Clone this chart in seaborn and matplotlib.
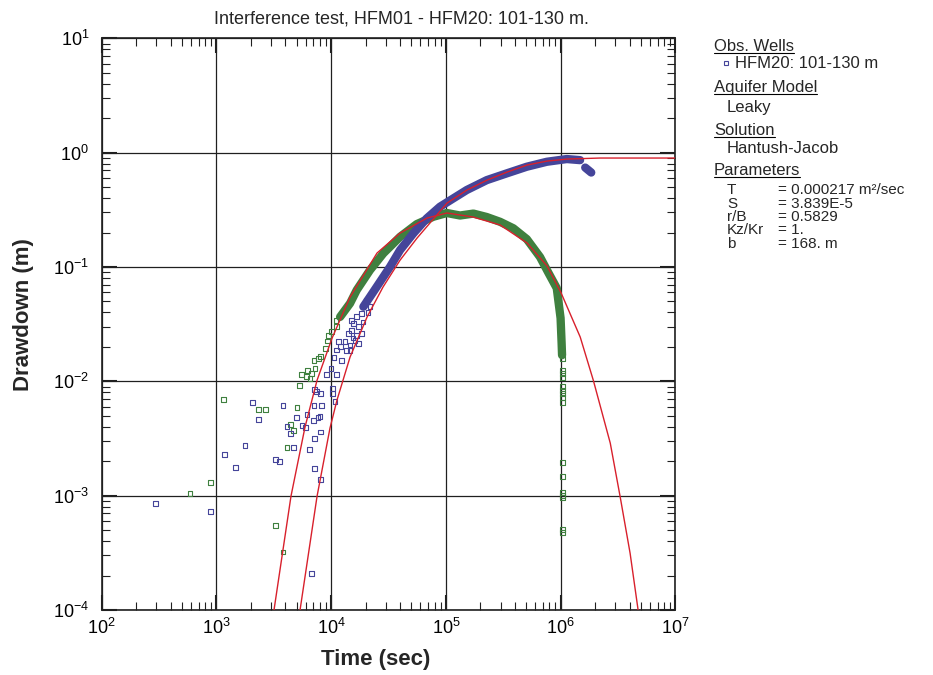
import matplotlib
matplotlib.use("Agg")
import matplotlib.pyplot as plt
import matplotlib.ticker as mticker
from matplotlib.lines import Line2D
import seaborn as sns
import pandas as pd
import numpy as np


BLUE = "#45459a"
GREEN = "#3f803f"
RED = "#d8202c"

TITLE = "Interference test, HFM01 - HFM20: 101-130 m."

# HFM20 observation well, scattered early-time readings
blue_sparse_t = [296, 891, 2056, 2339, 1172, 1472, 1775, 3266, 3565, 3811,
                 4130, 4409, 4680, 5012, 5572, 5957, 6166, 6457, 6714, 6998,
                 7145, 7145, 7100, 7200, 7482, 7691, 8000, 8050, 8050, 8110,
                 8222, 10330, 10330, 10810, 9162, 9977, 11190, 10590, 11190, 11970,
                 11560, 13220, 13680, 14620, 14620, 14130, 15140, 15630, 15140, 16710,
                 17260, 18490, 18490, 17260, 16140, 16710, 20420, 21830, 12360, 15520,
                 18970, 20950]
blue_sparse_s = [0.000859, 0.000731, 0.00653, 0.00465, 0.00228, 0.00177, 0.00273, 0.00207, 0.00198, 0.00611,
                 0.0040, 0.00352, 0.00264, 0.00483, 0.00408, 0.00395, 0.00516, 0.00254, 0.000208, 0.00458,
                 0.00316, 0.00173, 0.00611, 0.00849, 0.00809, 0.00483, 0.00489, 0.00783, 0.00361, 0.00139,
                 0.00611, 0.00867, 0.00783, 0.00671, 0.01148, 0.01297, 0.01148, 0.01618, 0.01876, 0.02005,
                 0.02218, 0.02218, 0.0185, 0.0185, 0.02075, 0.02624, 0.02805, 0.03214, 0.03428, 0.03664,
                 0.030, 0.02624, 0.03926, 0.02148, 0.02291, 0.02535, 0.0513, 0.04487, 0.0153, 0.0239,
                 0.033, 0.0403]

# HFM20, dense logger readings
blue_band_t = [19100, 25000, 32660, 39900, 52100, 68100, 88900, 116100, 152000, 227300,
               339800, 507400, 758000, 1133000, 1479000]
blue_band_s = [0.0449, 0.0672, 0.1005, 0.1406, 0.1968, 0.266, 0.3365, 0.398, 0.471, 0.575,
               0.659, 0.753, 0.832, 0.879, 0.860]
blue_blob_t = [1640000, 1850000]
blue_blob_s = [0.74, 0.67]

# second well (green), scattered readings
green_sparse_t = [1159, 2339, 2667, 5284, 5047, 4409, 4680, 4130, 891, 589,
                  3266, 3811, 5546, 6124, 6546, 6209, 6776, 7244, 7096, 7727,
                  8110, 8892, 9333, 9528, 10120, 11190, 11040,
                  1038000, 1040000, 1036000, 1038000, 1040000, 1036000, 1038000, 1040000,
                  1038000, 1038000, 1040000, 1036000, 1038000, 1040000, 1038000, 1040000]
green_sparse_s = [0.00695, 0.00568, 0.00568, 0.00914, 0.00592, 0.00416, 0.00374, 0.00264, 0.00131, 0.00105,
                  0.000545, 0.000321, 0.01148, 0.01094, 0.01066, 0.01253, 0.01172, 0.01297, 0.01531, 0.01585,
                  0.01637, 0.01941, 0.02249, 0.02535, 0.0271, 0.030, 0.03428,
                  0.01585, 0.01253, 0.01172, 0.01081, 0.00895, 0.00838, 0.00783, 0.00723,
                  0.00649, 0.00194, 0.00148, 0.00106, 0.00101, 0.000964, 0.000506, 0.00048]

green_band_t = [11970, 14620, 16710, 21830, 28510, 39900, 55720, 77800, 101900, 133000,
                173800, 227300, 297200, 387300, 507400, 662200, 778000, 926000, 1000000, 1021000,
                1030000]
green_band_s = [0.0366, 0.0481, 0.0628, 0.094, 0.1315, 0.1837, 0.237, 0.275, 0.2965, 0.282,
                0.293, 0.2735, 0.2483, 0.218, 0.1754, 0.1222, 0.0901, 0.0653, 0.0357, 0.0216,
                0.01694]

# Hantush-Jacob type curves
fit_a_t = [3020, 3177, 4467, 5916, 7540, 10190, 14620, 25120, 39900, 68550,
           102300, 172600, 297200, 510500, 763000, 1012000, 1483000, 1928000, 2711000, 3311000,
           4036000, 4740000, 4990000]
fit_a_s = [7e-5, 1e-4, 0.00099, 0.00397, 0.01023, 0.02388, 0.0546, 0.1324, 0.198, 0.268,
           0.2965, 0.2735, 0.233, 0.162, 0.102, 0.0591, 0.0244, 0.01023, 0.00288, 0.00097,
           0.000314, 1e-4, 7e-5]
fit_b_t = [5080, 5358, 7540, 9772, 11250, 14620, 20560, 28310, 39900, 56100,
           102300, 152800, 228600, 341300, 510500, 763000, 1143000, 2213000, 10000000]
fit_b_s = [7e-5, 1e-4, 0.00099, 0.0039, 0.00686, 0.0163, 0.0365, 0.0667, 0.1148, 0.179,
           0.362, 0.471, 0.575, 0.676, 0.779, 0.844, 0.879, 0.897, 0.897]

LEGEND_HEADS = [("Obs. Wells", 51), ("Aquifer Model", 92), ("Solution", 135), ("Parameters", 175)]
LEGEND_ITEMS = [("HFM20: 101-130 m", 735, 68), ("Leaky", 727, 112), ("Hantush-Jacob", 727, 153)]
PARAMS = [("T", "= 0.000217 m²/sec"), ("S", "= 3.839E-5"), ("r/B", "= 0.5829"),
          ("Kz/Kr", "= 1."), ("b", "= 168. m")]
PARAM_Y = [194.5, 207.8, 221.1, 234.4, 247.7]


sns.set_style("ticks")
plt.rcParams["font.family"] = ["Liberation Sans", "DejaVu Sans"]
plt.rcParams["axes.unicode_minus"] = False

W, H = 933, 675
fig = plt.figure(figsize=(W / 100, H / 100), dpi=100)
ax = fig.add_axes([101.7 / W, 1 - 610 / H, 573.6 / W, 571.7 / H])
ax.set_xscale("log")
ax.set_yscale("log")

sq = dict(marker="s", s=12, facecolors="none", linewidth=0.8, ax=ax, zorder=3)
sns.scatterplot(x=green_sparse_t, y=green_sparse_s, edgecolor=GREEN, **sq)
sns.lineplot(x=green_band_t, y=green_band_s, color=GREEN, lw=6, sort=False,
             estimator=None, solid_capstyle="round", ax=ax, zorder=3)
sns.scatterplot(x=blue_sparse_t, y=blue_sparse_s, edgecolor=BLUE, **sq)
sns.lineplot(x=blue_band_t, y=blue_band_s, color=BLUE, lw=6, sort=False,
             estimator=None, solid_capstyle="round", ax=ax, zorder=4)
sns.lineplot(x=blue_blob_t, y=blue_blob_s, color=BLUE, lw=6, sort=False,
             estimator=None, solid_capstyle="round", ax=ax, zorder=4)
sns.lineplot(x=fit_a_t, y=fit_a_s, color=RED, lw=1.0, sort=False, estimator=None, ax=ax, zorder=5)
sns.lineplot(x=fit_b_t, y=fit_b_s, color=RED, lw=1.0, sort=False, estimator=None, ax=ax, zorder=5)

ax.set_xlim(1e2, 1e7)
ax.set_ylim(1e-4, 1e1)
for axis in (ax.xaxis, ax.yaxis):
    axis.set_major_locator(mticker.LogLocator(base=10, numticks=20))
    axis.set_minor_locator(mticker.LogLocator(base=10, subs=np.arange(2, 10), numticks=100))
    axis.set_minor_formatter(mticker.NullFormatter())

ax.grid(True, which="major", color="#202020", lw=0.9)
ax.set_axisbelow(True)
ax.tick_params(which="both", direction="in", top=True, right=True, colors="#202020",
               labelcolor="black", labelsize=13)
ax.tick_params(which="major", length=11, width=1.5)
ax.tick_params(which="minor", length=5.5, width=0.8)
ax.tick_params(axis="y", pad=9)
ax.tick_params(axis="x", pad=6)
for sp in ax.spines.values():
    sp.set_linewidth(1.2)
    sp.set_color("#202020")

ax.set_xlabel("Time (sec)", fontsize=16, fontweight="bold")
ax.set_ylabel("Drawdown (m)", fontsize=16, fontweight="bold")
ax.xaxis.set_label_coords(0.478, -0.068)
ax.yaxis.set_label_coords(-0.118, 0.516)

fig.text(401 / W, 1 - 23.3 / H, TITLE, ha="center", va="baseline", fontsize=13)

# side panel
heads = []
for text, y in LEGEND_HEADS:
    heads.append((fig.text(714 / W, 1 - y / H, text, va="baseline", fontsize=12), y))
for text, x, y in LEGEND_ITEMS:
    fig.text(x / W, 1 - y / H, text, va="baseline", fontsize=12)
for (name, val), y in zip(PARAMS, PARAM_Y):
    fig.text(727 / W, 1 - y / H, name, va="baseline", fontsize=11)
    fig.text(778 / W, 1 - y / H, val, va="baseline", fontsize=11)
fig.add_artist(Line2D([725.7 / W], [1 - 63.3 / H], marker="s", markersize=3.5,
                      markerfacecolor="none", markeredgecolor=BLUE, markeredgewidth=0.8,
                      transform=fig.transFigure))

fig.canvas.draw()
renderer = fig.canvas.get_renderer()
for t, y in heads:
    bb = t.get_window_extent(renderer)
    fig.add_artist(Line2D([bb.x0 / W, bb.x1 / W], [1 - (y + 2) / H] * 2, color="black",
                          lw=0.8, transform=fig.transFigure))

fig.savefig("out.png", dpi=100)
